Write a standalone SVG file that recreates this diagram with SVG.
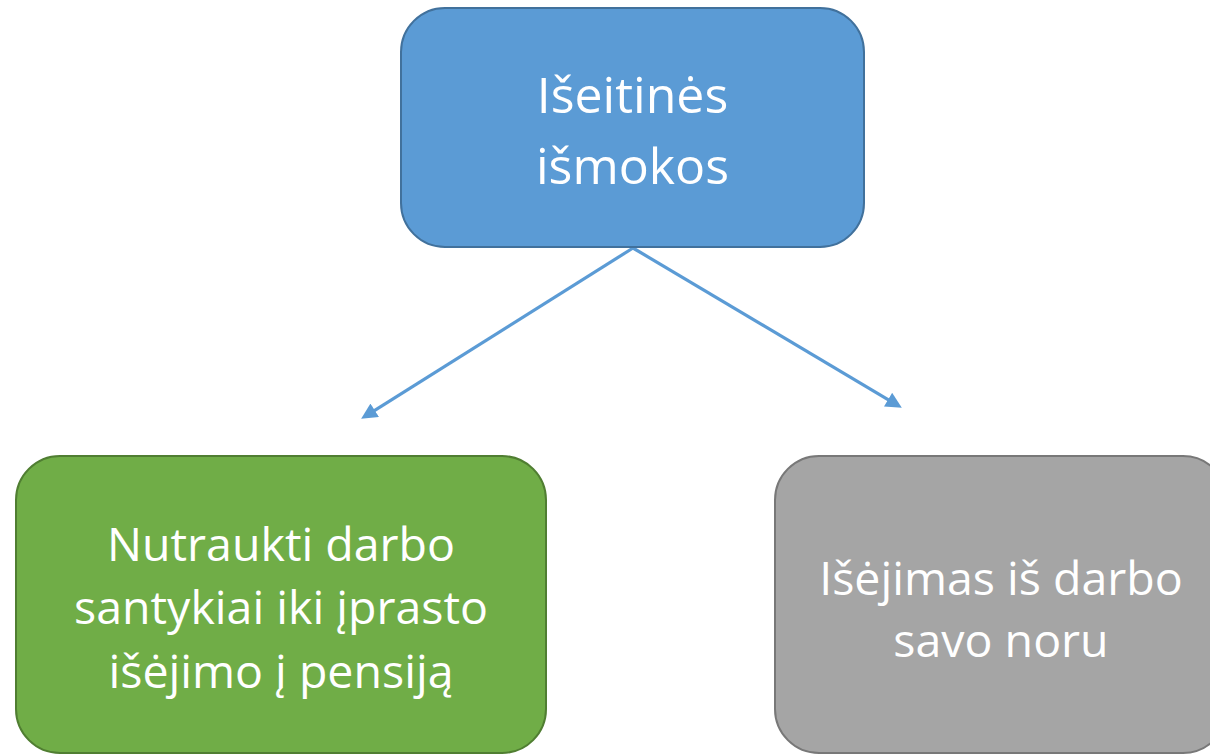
<svg xmlns="http://www.w3.org/2000/svg" width="1210" height="755" viewBox="0 0 1210 755">
  <style>
    .lbl { font-family: "Open Sans", "Liberation Sans", sans-serif; font-size: 50px; fill: #FFFFFF; text-anchor: middle; }
    .sm { font-size: 46.5px; }
    .conn { stroke: #5B9BD5; stroke-width: 3.2; fill: none; }
  </style>
  <defs>
    <marker id="arr" viewBox="0 0 10 10" refX="7" refY="5" markerWidth="5.2" markerHeight="5" markerUnits="strokeWidth" orient="auto">
      <path d="M0,0 L10,5 L0,10 Z" fill="#5B9BD5"/>
    </marker>
  </defs>
  <rect width="1210" height="755" fill="#FFFFFF"/>
  <g id="connectors">
    <line class="conn" x1="633" y1="248" x2="365.2" y2="416.3" marker-end="url(#arr)"/>
    <line class="conn" x1="633" y1="248" x2="897.7" y2="405.4" marker-end="url(#arr)"/>
  </g>
  <g id="node-top">
    <rect x="401" y="8" width="463" height="239" rx="44" ry="44" fill="#5B9BD5" stroke="#41719C" stroke-width="2"/>
    <text class="lbl" x="632.5" y="113">Išeitinės</text>
    <text class="lbl" x="632.5" y="184">išmokos</text>
  </g>
  <g id="node-left">
    <rect x="16" y="456" width="530" height="297" rx="44" ry="44" fill="#70AD47" stroke="#507E32" stroke-width="2"/>
    <text class="lbl sm" x="281" y="561">Nutraukti darbo</text>
    <text class="lbl sm" x="281" y="624">santykiai iki įprasto</text>
    <text class="lbl sm" x="281" y="688">išėjimo į pensiją</text>
  </g>
  <g id="node-right">
    <rect x="775" y="456" width="452" height="297" rx="44" ry="44" fill="#A5A5A5" stroke="#787878" stroke-width="2"/>
    <text class="lbl sm" x="1001" y="595">Išėjimas iš darbo</text>
    <text class="lbl sm" x="1001" y="657">savo noru</text>
  </g>
</svg>
